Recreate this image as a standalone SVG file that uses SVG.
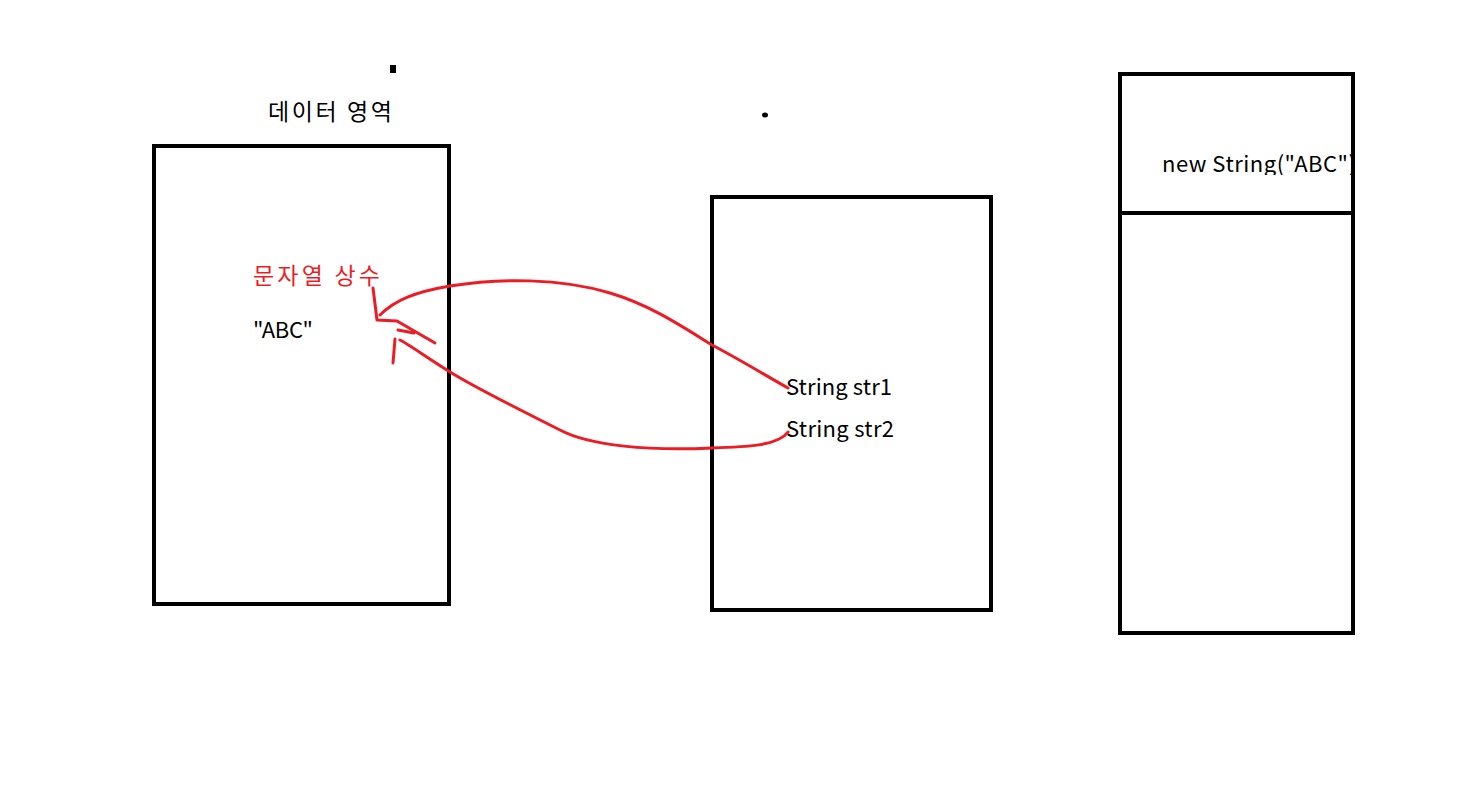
<svg xmlns="http://www.w3.org/2000/svg" width="1459" height="788" viewBox="0 0 1459 788">
<style>
.box{fill:none;stroke:#000;stroke-width:4}
.t{font-family:"Noto Sans CJK KR","Noto Sans",sans-serif;font-size:22px;fill:#000}
.k{font-size:23px}
.red{fill:#ed1c24}
.c{fill:none;stroke:#ed1c24;stroke-width:3;stroke-linecap:round;stroke-linejoin:round}
</style>
<defs><clipPath id="clip3"><rect x="1122" y="76" width="229" height="99"/></clipPath></defs>
<rect width="1459" height="788" fill="#fff"/>
<rect x="390" y="65" width="6" height="8" fill="#000"/>
<ellipse cx="765" cy="115" rx="3" ry="2.5" fill="#000"/>
<g id="data-area">
<text class="t k" x="268" y="120" textLength="124" lengthAdjust="spacing">데이터 영역</text>
<rect class="box" x="154" y="146" width="295" height="458"/>
<text class="t k red" x="253" y="284" textLength="127" lengthAdjust="spacing">문자열 상수</text>
<text class="t" x="253" y="338" textLength="60" lengthAdjust="spacing">"ABC"</text>
</g>
<g id="stack">
<rect class="box" x="712" y="197" width="279" height="413"/>
<text class="t" x="786" y="395" textLength="106" lengthAdjust="spacing">String str1</text>
<text class="t" x="786" y="437" textLength="108" lengthAdjust="spacing">String str2</text>
</g>
<g id="heap">
<rect class="box" x="1120" y="74" width="233" height="559"/>
<line x1="1120" y1="213" x2="1353" y2="213" stroke="#000" stroke-width="4"/>
<text class="t" x="1162" y="172" textLength="194" lengthAdjust="spacing" clip-path="url(#clip3)">new String("ABC")</text>
</g>
<g id="connectors">
<path class="c" d="M788,388 C760,372 735,357 712,345 C680,325 650,305 610,293 C560,278 500,278 450,286 C415,292 395,300 380,315"/>
<path class="c" d="M373,288 L377,320 L397,321 L435,343"/>
<path class="c" d="M788,432 C778,446 745,447 712,448 C650,451 590,446 560,430 C520,410 480,390 455,375 C430,360 410,345 400,340"/>
<path class="c" d="M393,363 L395,339 M398,330 L414,333"/>
</g>
</svg>
